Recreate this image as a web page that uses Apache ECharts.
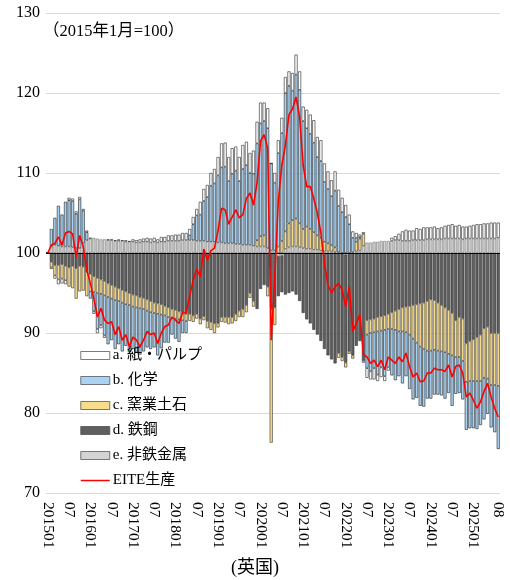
<!DOCTYPE html>
<html>
<head>
<meta charset="utf-8">
<script src="https://cdn.jsdelivr.net/npm/echarts/dist/echarts.min.js"></script>
<style>
html, body { margin: 0; padding: 0; background: #fff; }
#chart { width: 510px; height: 580px; }
</style>
</head>
<body>
<div id="chart"></div>
<script>
// 2015年1月=100 からの寄与度（ポイント）
const base = 100

// 月次カテゴリ 201501 - 202508
const months = []
for (let y = 2015; y <= 2025; y++) {
  for (let m = 1; m <= 12; m++) {
    if (y === 2025 && m > 8) break
    months.push(String(y) + (m < 10 ? '0' + m : m))
  }
}

// a. 紙・パルプ
const paper = [
  0, -0.2, -0.4, -0.6, -0.6, -0.5, 0.3, 0.3, 0.3, 0.3, 0.2, 0.2,
  0.1, -0.3, -0.5, -0.4, -0.3, 0.1, 0.1, 0.1, 0.2, 0.1, 0.2, 0.1,
  0.3, 0.3, 0.4, 0.4, 0.5, 0.5, 0.5, 0.4, 0.6, 0.6, 0.7, 0.7,
  0.8, 0.8, 0.9, 0.9, 0.8, 0.9, 0.8, 1.6, 1.5, 1.5, 1.6, 1.8,
  2.3, 3.0, 3.0, 3.0, 3.2, 3.0, 3.0, 3.0, 2.9, 2.5, 2.9, 2.7,
  2.6, 2.3, 2.5, 0, 1.2, 1.6, 1.9, 2.0, 1.8, 2.2, 2.5, 2.3,
  1.8, 2.3, 2.4, 2.8, 2.5, 2.6, 2.3, 2.2, 2.0, 2.4, 2.0, 1.8,
  1.5, 1.2, 0.8, 0.6, 0.3, 0.2, -1.2, -1.0, -1.4, -0.8, -1.2, -0.6,
  -0.4, 0.4, 0.5, 0.8, 1.2, 1.4, 1.3, 1.2, 1.5, 1.4, 1.6, 1.5,
  1.5, 1.6, 1.4, 1.5, 1.6, 1.7, 1.8, 1.6, 1.7, 1.6, 1.5, 1.6,
  1.7, 1.8, 1.8, 1.9, 1.9, 2.0, 2.0, 1.9
]
// b. 化学
const chemical = [
  0, 2.2, 3.4, 5.0, 4.0, 5.6, 5.8, 5.8, 4.3, 6.1, 4.1, 1.0,
  -0.9, -2.4, -4.5, -3.9, -5.0, -5.9, -5.2, -6.1, -5.4, -6.1, -5.2, -5.9,
  -5.3, -5.6, -5.8, -5.3, -4.6, -4.6, -4.3, -5.2, -4.2, -3.4, -3.2, -2.1,
  -2.5, -2.8, -1.6, -1.5, 0.6, 2.0, 3.2, 3.3, 5.0, 5.6, 7.0, 7.3,
  8.4, 9.4, 9.6, 7.8, 8.7, 9.2, 7.9, 9.5, 10.0, 9.0, 9.0, 12.1,
  14.1, 14.3, 15.0, 10.9, 8.5, 11.7, 13.5, 17.3, 17.2, 16.2, 18.0, 16.7,
  13.5, 12.3, 11.9, 11.2, 9.8, 9.6, 7.5, 6.8, 6.1, 7.1, 5.8, 5.1,
  4.5, 3.6, 1.8, 0.5, 0.2, -0.3, -4.2, -4.8, -4.5, -5.4, -4.6, -5.8,
  -4.8, -5.8, -6.3, -5.6, -6.5, -5.5, -6.8, -7.6, -6.9, -7.4, -7.2, -6.0,
  -6.0, -5.6, -5.5, -5.5, -5.8, -4.9, -6.3, -4.6, -4.5, -4.8, -6.0, -5.9,
  -5.9, -6.0, -5.5, -5.2, -4.4, -5.3, -5.9, -7.9
]
// c. 窯業土石
const ceramic = [
  0, -0.7, -1.3, -1.8, -1.8, -1.8, -2.4, -2.8, -3.8, -3.2, -3.0, -3.0,
  -2.2, -2.0, -1.9, -1.8, -1.8, -1.7, -1.7, -1.7, -1.6, -1.6, -1.6, -1.5,
  -1.5, -1.5, -1.4, -1.4, -1.4, -1.4, -1.3, -1.3, -1.3, -1.2, -1.2, -1.1,
  -1.1, -1.0, -1.0, -0.9, -0.9, -0.8, -0.6, -0.7, -0.5, -0.9, -1.0, -1.2,
  -0.5, -0.6, -0.7, -0.9, -0.8, -0.9, -0.8, -1.0, -0.9, -0.6, -0.7, 0.8,
  1.3, 1.4, -1.2, -16.7, -2.2, 0.8, 1.5, 2.2, 3.0, 3.3, 3.5, 3.0,
  2.4, 2.8, 2.5, 2.2, 1.8, 1.6, 1.2, 1.0, 0.8, 0.6, -0.6, -0.5,
  -0.6, -0.3, -0.4, 1.2, 1.5, 1.5, -1.8, -1.7, -1.7, -1.8, -1.8, -1.8,
  -1.9, -2.1, -2.4, -2.8, -3.0, -3.2, -3.6, -4.2, -4.8, -5.4, -5.8, -6.2,
  -6.4, -6.2, -6.0, -5.8, -5.6, -5.5, -5.3, -4.6, -5.0, -5.3, -4.8, -5.0,
  -5.2, -5.5, -5.8, -6.2, -6.5, -6.5, -6.5, -6.6
]
// d. 鉄鋼
const steel = [
  0, -1.1, -1.5, -1.5, -1.4, -1.6, -1.8, -1.6, -1.9, -1.6, -1.7, -2.4,
  -2.6, -2.9, -3.1, -3.3, -3.5, -3.8, -4.0, -4.2, -4.4, -4.6, -4.8, -5.0,
  -5.2, -5.3, -5.5, -5.6, -5.8, -6.0, -6.2, -6.3, -6.4, -6.6, -6.8, -7.0,
  -7.1, -7.3, -7.4, -7.6, -7.6, -7.8, -7.6, -8.2, -7.9, -8.5, -8.6, -8.8,
  -8.8, -8.0, -8.0, -8.0, -8.0, -7.6, -7.2, -7.0, -6.5, -5.0, -6.0, -7.0,
  -4.5, -4.0, -4.2, -7.0, -6.8, -5.0, -4.6, -5.2, -5.0, -4.8, -5.2, -6.0,
  -7.5, -8.3, -8.8, -9.6, -10.2, -11.0, -12.0, -12.8, -13.3, -13.8, -12.5, -13.0,
  -13.5, -12.3, -12.8, -11.6, -11.0, -13.4, -8.4, -8.3, -8.2, -8.0, -7.9, -7.8,
  -7.6, -7.4, -7.2, -7.0, -6.8, -6.7, -6.6, -6.5, -6.4, -6.3, -6.2, -6.0,
  -5.8, -5.9, -6.2, -6.5, -6.8, -7.1, -7.5, -8.4, -8.0, -8.2, -11.3, -11.0,
  -10.8, -10.5, -10.2, -9.4, -9.2, -10.0, -10.0, -10.0
]
// e. 非鉄金属
const nonferrous = [
  0, 0.8, 1.0, 0.9, 0.8, 0.8, 0.8, 0.7, 0.6, 0.6, 1.2, 1.6,
  1.8, 1.9, 1.8, 1.7, 1.7, 1.6, 1.6, 1.5, 1.5, 1.5, 1.4, 1.4,
  1.4, 1.3, 1.3, 1.4, 1.4, 1.3, 1.4, 1.3, 1.4, 1.4, 1.5, 1.5,
  1.5, 1.5, 1.6, 1.6, 1.6, 1.6, 1.5, 1.5, 1.5, 1.4, 1.4, 1.4,
  1.3, 1.3, 1.2, 1.2, 1.2, 1.1, 1.1, 1.0, 1.0, 1.0, 0.9, 0.8,
  0.8, 0.8, 0.6, 0.3, 0.3, -0.4, -0.3, 0.5, 0.7, 0.8, 0.8, 0.7,
  0.6, 0.5, 0.5, 0.4, 0.4, 0.3, 0.2, 0.2, 0.2, 0.1, 0.1, 0.0,
  -0.2, 0.0, 0.1, 0.2, 0.3, 0.9, 1.3, 1.3, 1.4, 1.4, 1.5, 1.5,
  1.5, 1.5, 1.6, 1.6, 1.5, 1.5, 1.5, 1.6, 1.6, 1.6, 1.6, 1.7,
  1.7, 1.7, 1.7, 1.7, 1.8, 1.8, 1.8, 1.8, 1.8, 1.7, 1.8, 1.8,
  1.8, 1.8, 1.8, 1.8, 1.8, 1.8, 1.8, 1.9
]
// EITE生産（指数）
const eite = [
  100, 101.0, 101.2, 102.0, 101.0, 102.5, 102.7, 102.4, 99.5, 102.2, 100.8, 97.9,
  96.2, 94.3, 92.0, 93.1, 91.6, 91.2, 91.4, 89.8, 90.8, 89.1, 89.8, 88.3,
  89.5, 89.1, 88.3, 89.1, 90.2, 89.8, 90.0, 88.7, 90.0, 90.8, 91.0, 92.0,
  91.6, 91.2, 92.5, 92.5, 94.6, 96.6, 98.0, 97.0, 100.5, 99.1, 100.3, 100.6,
  102.8, 105.6, 105.4, 103.6, 104.5, 105.4, 104.4, 104.8, 106.8, 107.5, 106.0, 108.8,
  114.0, 114.8, 113.1, 89.1, 97.0, 106.5, 111.0, 113.5, 117.3, 118.0, 119.5, 117.0,
  111.0, 108.3, 108.3, 106.8, 105.0, 102.5, 98.7, 96.0, 95.0, 95.8, 96.2, 95.4,
  93.3, 95.8, 90.2, 91.2, 92.3, 87.3, 87.0, 86.2, 86.6, 85.8, 86.6, 85.4,
  87.0, 86.6, 86.2, 87.0, 86.4, 87.5, 85.8, 84.5, 85.0, 83.9, 84.0, 85.0,
  85.0, 85.6, 85.4, 85.4, 85.2, 86.0, 84.5, 85.8, 86.0, 85.0, 82.0, 82.5,
  81.6, 80.6, 81.4, 82.7, 83.7, 82.0, 80.6, 79.5
]

const names = ['a. 紙・パルプ', 'b. 化学', 'c. 窯業土石', 'd. 鉄鋼', 'e. 非鉄金属', 'EITE生産']
const yTicks = { min: 70, max: 130, step: 10 }

const serif = "'Liberation Serif', 'Times New Roman', 'Noto Sans CJK JP', serif"

function barSeries (name, data, color, border) {
  return {
    name: name,
    type: 'bar',
    stack: 'total',
    barCategoryGap: '14%',
    data: data,
    itemStyle: {
      color: color,
      borderColor: border,
      borderWidth: 0.6
    },
    emphasis: { disabled: true }
  }
}

var myChart = echarts.init(document.getElementById('chart'))
const lastIdx = months.length - 1

myChart.setOption({
  animation: false,
  title: [
    {
      text: '（2015年1月=100）',
      left: 38,
      top: 18,
      textStyle: { fontFamily: serif, fontSize: 16.5, fontWeight: 'normal', color: '#000' }
    },
    {
      text: '(英国)',
      left: 'center',
      top: 554,
      textStyle: { fontFamily: serif, fontSize: 18, fontWeight: 'normal', color: '#000' }
    }
  ],
  legend: {
    orient: 'vertical',
    left: 75,
    top: 343,
    itemWidth: 29,
    itemHeight: 8,
    itemGap: 10,
    itemStyle: { borderWidth: 0.7, borderColor: '#444' },
    data: names.slice(0, 5).map(n => ({ name: n, icon: 'rect' })).concat([
      { name: names[5], itemStyle: { opacity: 0 }, lineStyle: { color: '#ff0000', width: 1.5 } }
    ]),
    textStyle: { fontFamily: serif, fontSize: 15, color: '#000', padding: [0, 0, 0, -2] }
  },
  grid: {
    left: 46,
    right: 10,
    top: 13,
    bottom: 87
  },
  xAxis: {
    type: 'category',
    data: months,
    axisLine: { show: false },
    axisTick: { show: false },
    axisLabel: {
      rotate: -90,
      margin: 9,
      fontFamily: serif,
      fontSize: 15.5,
      color: '#000',
      interval: function (idx, val) {
        const m = val.slice(4)
        if (idx === lastIdx) return true
        if (val.slice(0, 4) === '2025') return m === '01'
        return m === '01' || m === '07'
      },
      formatter: function (val) {
        const m = val.slice(4)
        return m === '01' ? val : m
      }
    }
  },
  yAxis: {
    type: 'value',
    min: yTicks.min - base,
    max: yTicks.max - base,
    interval: yTicks.step,
    axisLine: { show: false },
    axisTick: { show: false },
    splitLine: { lineStyle: { color: '#d9d9d9', width: 1 } },
    axisLabel: {
      margin: 6,
      fontFamily: serif,
      fontSize: 16,
      color: '#000',
      formatter: function (v) { return v + base }
    }
  },
  series: [
    barSeries(names[4], nonferrous, '#d4d4d4', '#777'),
    barSeries(names[3], steel, '#5f5f5f', '#333'),
    barSeries(names[2], ceramic, '#f8dc8c', '#333'),
    barSeries(names[1], chemical, '#a8d3f5', '#222'),
    Object.assign(barSeries(names[0], paper, '#ffffff', '#222'), {
      markLine: {
        silent: true,
        symbol: 'none',
        label: { show: false },
        lineStyle: { color: '#000', width: 1, type: 'solid' },
        data: [{ yAxis: 0 }]
      }
    }),
    {
      name: names[5],
      type: 'line',
      data: eite.map(v => +(v - base).toFixed(1)),
      symbol: 'none',
      z: 5,
      lineStyle: { color: '#ff0000', width: 1.6 },
      itemStyle: { color: '#ff0000' },
      emphasis: { disabled: true }
    }
  ]
})
</script>
</body>
</html>
